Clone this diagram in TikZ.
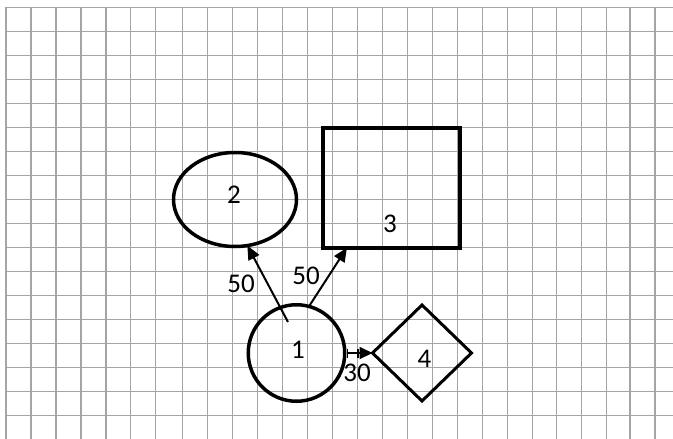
\documentclass[tikz,border=0pt]{standalone}
\usepackage{fontspec}
\setmainfont{Carlito}
\usetikzlibrary{shapes.geometric,arrows.meta,calc}
\begin{document}
\begin{tikzpicture}[x=1pt,y=-1pt,
  gridline/.style={draw={rgb,255:red,165;green,165;blue,165}, line width=1.3pt},
  shapeline/.style={draw=black, line width=3.5pt, inner sep=0pt, outer sep=0pt},
  lbl/.style={inner sep=0pt, text=black, font=\fontsize{27}{27}\selectfont},
  conn/.style={draw=black, line width=2pt, -{Triangle[length=14pt,width=12pt]}},
]
\useasboundingbox (0,0) rectangle (673,439);
\fill[white] (0,0) rectangle (673,439);
% grid
\foreach \gx in {6,31,56,81,106,130.7,155.3,182.7,207.7,232.7,257.7,282.7,307.7,332.7,357.7,382.7,407.7,432.7,457.3,482.7,507.7,532.7,556.7,581.7,606.7,630,655}
  \draw[gridline] (\gx,7) -- (\gx,439);
\foreach \gj in {0,...,17}
  \draw[gridline] (6,{7.3+24*\gj}) -- (673,{7.3+24*\gj});
% shapes
\node[shapeline, ellipse, minimum width=123pt, minimum height=94pt] (n2) at (235,199.5) {};
\node[shapeline, rectangle, line width=4pt, minimum width=136.7pt, minimum height=120pt] (n3) at (391.3,187.7) {};
\node[shapeline, circle, minimum size=96.5pt] (n1) at (296.5,353) {};
\node[shapeline, diamond, line width=3pt, minimum width=99pt, minimum height=96pt] (n4) at (422,353) {};
% labels
\node[lbl] (l1) at (298,350) {1};
\node[lbl] (l2) at (234,195) {2};
\node[lbl] (l3) at (390,224) {3};
\node[lbl] (l4) at (424.5,358.5) {4};
% connectors
\coordinate (s12) at ($(n1.center)+(-8.5,-31)$);
\draw[conn] (s12) -- (n2.-75);
\draw[conn] (n1.75) -- ($(n3.south west)+(24,0)$);
\draw[draw=black, line width=2pt, {Bar[width=9pt,line width=1.5pt]}-{Bar[width=9pt,line width=1.5pt,sep=1pt] Triangle[length=13pt,width=12pt]}, shorten <=2pt] (n1.east) -- (n4.west);
% connector labels
\node[lbl] (w12) at (241,284) {50};
\node[lbl] (w13) at (306,276) {50};
\node[lbl] (w14) at (357,373) {30};
\end{tikzpicture}
\end{document}
